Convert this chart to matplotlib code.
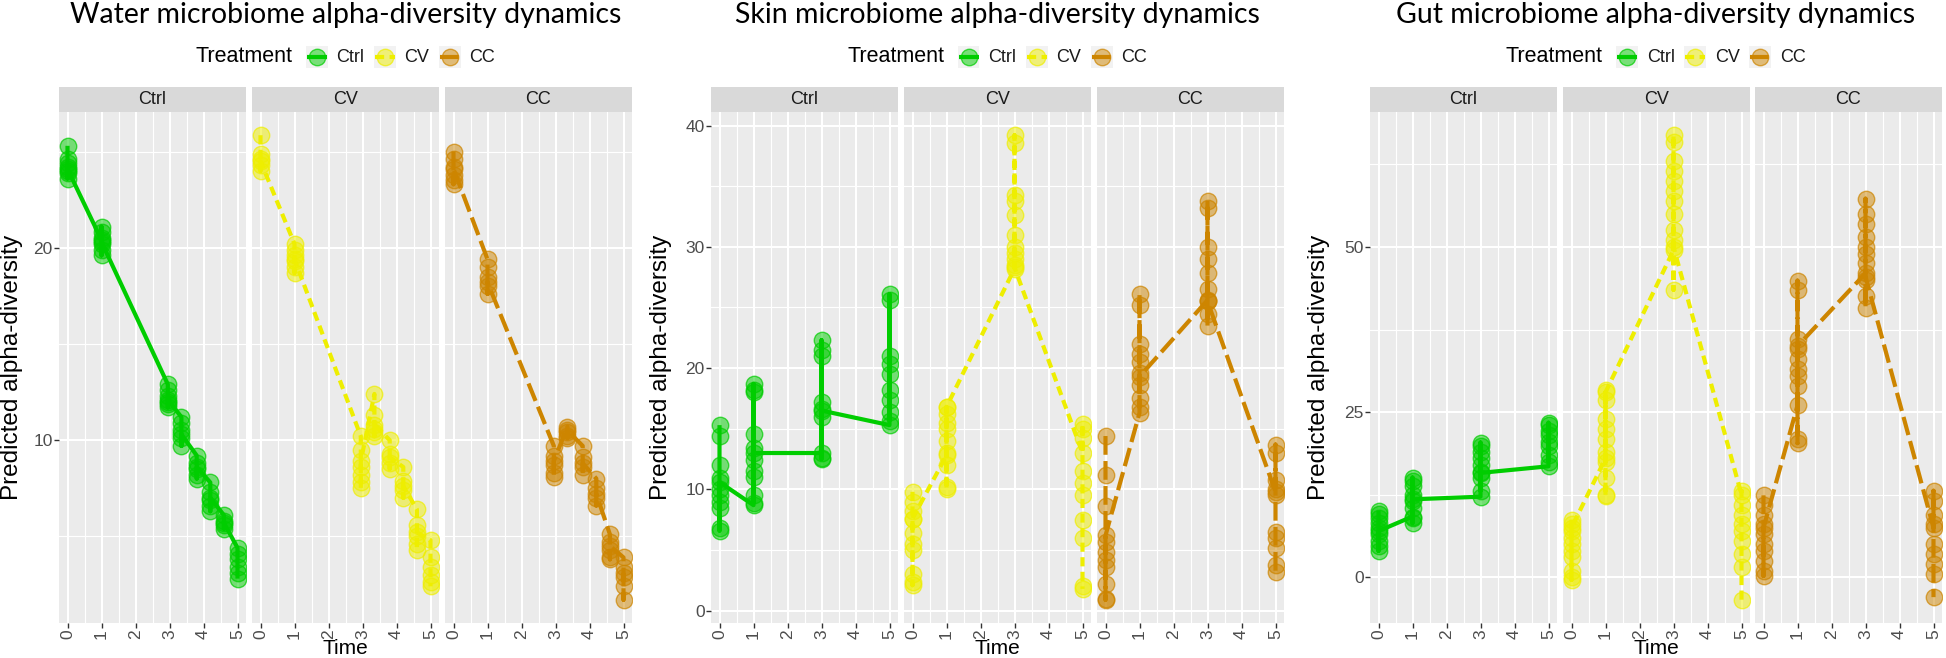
import matplotlib
matplotlib.use("Agg")
import matplotlib.pyplot as plt
from matplotlib.colors import to_rgba
from matplotlib.lines import Line2D
from matplotlib.patches import Rectangle
import numpy as np

W, H = 1946, 658
plt.rcParams["font.family"] = ["Liberation Sans", "DejaVu Sans"]

TREATMENTS = ["Ctrl", "CV", "CC"]
COLORS = {"Ctrl": "#00CD00", "CV": "#EEEE00", "CC": "#CD8500"}
LINESTYLES = {"Ctrl": "-", "CV": (0, (2.2, 1.3)), "CC": (0, (4.5, 1.5))}

TITLES = [
    "Water microbiome alpha-diversity dynamics",
    "Skin microbiome alpha-diversity dynamics",
    "Gut microbiome alpha-diversity dynamics",
]

# ── water ──────────────────────────────────────────────
WATER_TIMES = [0, 1, 2.95, 3.35, 3.8, 4.2, 4.6, 5]
WATER_CTRL = [
    [25.3, 24.6, 24.4, 24.2, 24.0, 23.9, 23.6, 24.1],
    [20.4, 21.1, 20.8, 20.5, 20.2, 19.9, 19.6, 20.3],
    [12.9, 12.6, 12.3, 12.0, 11.7, 11.9, 12.1],
    [11.2, 10.9, 10.5, 10.1, 9.7, 10.3],
    [9.2, 8.8, 8.5, 8.2, 8.0, 8.6],
    [7.8, 7.3, 6.9, 6.6, 6.3, 7.0],
    [6.1, 5.8, 5.6, 5.4, 5.7],
    [4.4, 4.1, 3.8, 3.4, 3.1, 2.8],
]
WATER_CV = [
    [25.85, 24.9, 24.6, 24.3, 24.0, 24.5],
    [20.2, 19.9, 19.6, 19.3, 19.0, 18.7, 19.4],
    [10.2, 9.5, 8.6, 8.2, 7.8, 7.5, 8.9],
    [12.4, 11.3, 10.6, 10.2, 10.4, 10.8],
    [10.0, 9.3, 8.8, 8.5, 9.1],
    [8.6, 7.9, 7.4, 7.0, 7.6],
    [6.4, 5.6, 5.0, 4.6, 4.3, 5.2],
    [4.8, 3.9, 3.4, 3.0, 2.6, 2.4],
]
WATER_CC = [
    [25.0, 24.6, 24.2, 23.8, 23.5, 23.3, 24.1],
    [19.4, 19.0, 18.5, 18.0, 17.6, 18.2],
    [9.7, 9.2, 8.7, 8.3, 8.1, 8.9],
    [10.7, 10.4, 10.2, 10.1, 10.5],
    [9.7, 9.1, 8.6, 8.2, 8.8],
    [8.0, 7.5, 7.0, 6.6, 7.2],
    [5.1, 4.7, 4.3, 3.9, 3.8, 4.5],
    [3.9, 3.4, 2.9, 2.4, 1.7, 3.1],
]

# ── skin ───────────────────────────────────────────────
SKIN_TIMES = [0, 1, 3, 5]
SKIN_CTRL = [
    [15.3, 14.4, 12.0, 10.9, 10.0, 9.5, 9.0, 8.5, 6.8, 6.6, 10.6],
    [8.7, 18.7, 18.2, 18.0, 14.6, 13.4, 12.4, 11.5, 11.0, 9.5, 8.9, 13.0],
    [13.0, 22.3, 21.5, 21.0, 17.2, 16.6, 16.0, 12.6, 12.5, 16.5],
    [15.3, 26.1, 25.6, 21.0, 20.3, 19.5, 18.2, 17.4, 16.4, 15.6],
]
SKIN_CV = [
    [9.8, 9.0, 8.2, 7.6, 6.4, 5.5, 5.0, 3.0, 2.4, 2.1, 7.6],
    [12.8, 16.8, 16.2, 15.5, 15.0, 14.0, 13.0, 12.0, 10.2, 10.0, 16.8],
    [28.2, 39.2, 38.6, 34.3, 33.8, 32.6, 31.0, 30.0, 29.5, 29.0, 28.5, 28.3],
    [13.0, 15.4, 15.0, 14.2, 11.5, 10.5, 9.5, 7.5, 6.0, 2.0, 1.8],
]
SKIN_CC = [
    [14.4, 11.2, 8.6, 5.7, 4.8, 4.2, 3.6, 2.2, 1.0, 0.9, 6.2],
    [16.3, 26.1, 25.2, 22.0, 21.2, 20.5, 19.6, 18.6, 17.5, 16.8, 19.3],
    [25.6, 33.8, 33.2, 30.0, 29.0, 27.8, 26.5, 25.5, 24.5, 23.5, 25.5],
    [9.8, 13.7, 13.0, 10.8, 10.0, 9.5, 6.5, 6.0, 5.2, 3.8, 3.2],
]

# ── gut ────────────────────────────────────────────────
GUT_TIMES = [0, 1, 3, 5]
GUT_CTRL = [
    [10.1, 9.6, 9.0, 8.2, 7.5, 6.5, 5.5, 4.8, 4.0, 7.0],
    [9.2, 15.1, 14.6, 13.8, 12.5, 11.5, 10.5, 9.0, 8.2, 11.8],
    [12.2, 20.4, 19.8, 19.0, 18.0, 17.0, 16.0, 15.0, 13.1, 15.8],
    [16.8, 23.4, 23.0, 22.2, 21.5, 20.5, 19.8, 18.5, 17.5],
]
GUT_CV = [
    [8.7, 8.0, 7.0, 6.0, 5.0, 4.0, 3.0, 1.0, 0.0, -0.4, 7.5],
    [18.0, 28.3, 26.8, 24.0, 22.5, 21.0, 19.0, 17.5, 15.0, 12.5, 12.3, 28.0],
    [49.5, 66.9, 65.8, 63.0, 61.5, 60.0, 58.5, 57.0, 55.0, 52.5, 51.0, 43.5, 50.0],
    [12.5, 13.1, 11.0, 9.5, 8.0, 7.0, 5.5, 3.5, 1.5, -3.4],
]
GUT_CC = [
    [12.4, 11.0, 9.5, 8.0, 6.5, 5.0, 4.0, 2.5, 1.0, 0.2, 7.5],
    [26.0, 44.9, 43.5, 36.0, 34.5, 33.0, 31.5, 30.5, 29.0, 21.0, 20.3, 35.0],
    [46.0, 57.3, 55.0, 53.5, 51.5, 50.0, 49.0, 47.5, 45.0, 42.5, 40.8, 45.5],
    [7.5, 13.1, 11.5, 9.5, 8.0, 5.0, 3.5, 2.0, 0.5, -3.0],
]

Y_MAJOR = [[10, 20], [0, 10, 20, 30, 40], [0, 25, 50]]
Y_MINOR = [[5, 15, 25], [5, 15, 25, 35], [12.5, 37.5, 62.5]]

CHARTS = [
    (WATER_TIMES, {"Ctrl": WATER_CTRL, "CV": WATER_CV, "CC": WATER_CC}),
    (SKIN_TIMES, {"Ctrl": SKIN_CTRL, "CV": SKIN_CV, "CC": SKIN_CC}),
    (GUT_TIMES, {"Ctrl": GUT_CTRL, "CV": GUT_CV, "CC": GUT_CC}),
]

# layout (pixels)
PANEL_LEFT = [[59, 252, 445], [711, 904, 1097], [1370, 1563, 1755]]
PANEL_W = 187
PANEL_TOP, PANEL_BOTTOM = 112, 623
STRIP_TOP = 87
YLAB_CX = [12, 661, 1319]

PANEL_BG = "#EBEBEB"
STRIP_BG = "#D9D9D9"
PT_SIZE = 140
LINE_W = 3.0


def fx(p):
    return p / W


def fy(p):
    return 1 - p / H


def draw_legend(fig, cx):
    start = cx - 150
    y = 57
    fig.text(fx(start), fy(y), "Treatment", ha="left", va="center",
             fontsize=15.5, color="black")
    for tr, kx, tx in zip(TREATMENTS, [121, 189, 254], [141, 209, 274]):
        k = start + kx
        fig.add_artist(Rectangle((fx(k - 11), fy(y + 11)), 22 / W, 22 / H,
                                 transform=fig.transFigure,
                                 facecolor="#F2F2F2", edgecolor="none"))
        fig.add_artist(Line2D([fx(k - 10), fx(k + 10)], [fy(y), fy(y)],
                              transform=fig.transFigure, color=COLORS[tr],
                              lw=LINE_W, ls=LINESTYLES[tr],
                              solid_capstyle="butt"))
        fig.add_artist(Line2D([fx(k)], [fy(y)], transform=fig.transFigure,
                              marker="o", ms=np.sqrt(PT_SIZE), ls="none",
                              mfc=to_rgba(COLORS[tr], 0.5),
                              mec=to_rgba(COLORS[tr], 0.7), mew=1.0))
        fig.text(fx(start + tx), fy(y), tr, ha="left", va="center",
                 fontsize=13, color="#1A1A1A")


def make_figure():
    fig = plt.figure(figsize=(W / 100, H / 100), dpi=100)
    fig.patch.set_facecolor("white")

    for c, (times, series) in enumerate(CHARTS):
        # shared y-range with ggplot's 5% expansion
        allv = [v for tr in TREATMENTS for grp in series[tr] for v in grp]
        lo, hi = min(allv), max(allv)
        pad = 0.05 * (hi - lo)

        for f, tr in enumerate(TREATMENTS):
            left = PANEL_LEFT[c][f]
            ax = fig.add_axes([fx(left), fy(PANEL_BOTTOM), PANEL_W / W,
                               (PANEL_BOTTOM - PANEL_TOP) / H])
            ax.set_facecolor(PANEL_BG)
            for sp in ax.spines.values():
                sp.set_visible(False)

            xs, ys = [], []
            for t, vals in zip(times, series[tr]):
                xs += [t] * len(vals)
                ys += vals
            col = COLORS[tr]
            ax.scatter(xs, ys, s=PT_SIZE, facecolor=to_rgba(col, 0.5),
                       edgecolor=to_rgba(col, 0.7), linewidth=1.0, zorder=3)
            ax.plot(xs, ys, color=col, lw=LINE_W, ls=LINESTYLES[tr], zorder=4,
                    solid_capstyle="butt", dash_capstyle="butt")

            ax.set_xlim(-0.25, 5.25)
            ax.set_ylim(lo - pad, hi + pad)
            ax.set_xticks(range(6))
            ax.set_xticks(np.arange(0.5, 5, 1.0), minor=True)
            ax.set_yticks(Y_MAJOR[c])
            ax.set_yticks(Y_MINOR[c], minor=True)
            ax.set_xticklabels([str(i) for i in range(6)], rotation=90)
            ax.grid(which="major", color="white", lw=1.5)
            ax.grid(which="minor", color="white", lw=0.8)
            ax.set_axisbelow(True)
            ax.tick_params(which="minor", length=0)
            ax.tick_params(which="major", length=3.5, width=1.0,
                           color="#333333", labelcolor="#4D4D4D",
                           labelsize=12.5, pad=1.0)
            if f > 0:
                ax.tick_params(axis="y", left=False, labelleft=False)

            # facet strip
            fig.add_artist(Rectangle((fx(left), fy(PANEL_TOP)), PANEL_W / W,
                                     (PANEL_TOP - STRIP_TOP) / H,
                                     transform=fig.transFigure,
                                     facecolor=STRIP_BG, edgecolor="none"))
            fig.text(fx(left + PANEL_W / 2), fy((PANEL_TOP + STRIP_TOP) / 2),
                     tr, ha="center", va="center", fontsize=13,
                     color="#1A1A1A")

        mid = (PANEL_LEFT[c][0] + PANEL_LEFT[c][2] + PANEL_W) / 2
        fig.text(fx(mid), fy(15), TITLES[c], ha="center",
                 va="center", fontsize=20.5, family="Lato")
        draw_legend(fig, mid)
        fig.text(fx(mid), fy(657.5), "Time", ha="center", va="bottom",
                 fontsize=15, color="black")
        fig.text(fx(YLAB_CX[c]), fy((PANEL_TOP + PANEL_BOTTOM) / 2),
                 "Predicted alpha-diversity", rotation=90, ha="center",
                 va="center", fontsize=17.5, color="black")

    fig.savefig("out.png", dpi=100, facecolor="white")
    plt.close(fig)


if __name__ == "__main__":
    make_figure()
